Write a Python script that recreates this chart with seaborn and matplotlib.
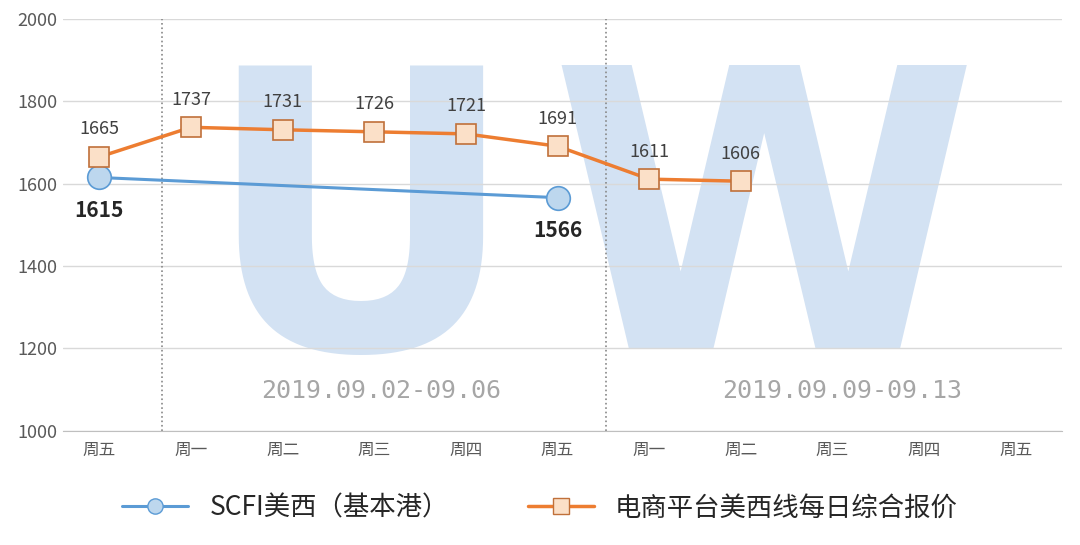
import matplotlib.pyplot as plt
import seaborn as sns
import pandas as pd
from matplotlib.lines import Line2D

days = ["周五", "周一", "周二", "周三", "周四", "周五",
        "周一", "周二", "周三", "周四", "周五"]
ecom_idx = [0, 1, 2, 3, 4, 5, 6, 7]
ecom_vals = [1665, 1737, 1731, 1726, 1721, 1691, 1611, 1606]
scfi_idx = [0, 5]
scfi_vals = [1615, 1566]
weeks = ["2019.09.02-09.06", "2019.09.09-09.13"]

sns.set_style("white")
plt.rcParams['font.family'] = ['Noto Sans CJK SC', 'DejaVu Sans']

fig = plt.figure(figsize=(10.8, 5.45), dpi=100)
ax = fig.add_axes([0.058, 0.21, 0.925, 0.755])

# watermark
wm = dict(fontsize=280, color="#d3e2f3", ha="center", va="center",
          fontweight="bold", family=["Liberation Sans Narrow", "DejaVu Sans"], zorder=0)
ax.text(2.85, 1460, "U", **wm)
ax.text(7.25, 1460, "W", **wm)

for y in range(1000, 2001, 200):
    ax.axhline(y, color="#d9d9d9", lw=1, zorder=1)
ax.axvline(0.68, color="#888888", ls=":", lw=1.2, zorder=1)
ax.axvline(5.53, color="#888888", ls=":", lw=1.2, zorder=1)

df_e = pd.DataFrame({"x": ecom_idx, "y": ecom_vals})
df_s = pd.DataFrame({"x": scfi_idx, "y": scfi_vals})
sns.lineplot(data=df_s, x="x", y="y", ax=ax, color="#5b9bd5", lw=2.2,
             marker="o", markersize=17, markerfacecolor="#bdd7ee",
             markeredgecolor="#5b9bd5", markeredgewidth=1.2, zorder=3)
sns.lineplot(data=df_e, x="x", y="y", ax=ax, color="#ed7d31", lw=2.5,
             marker="s", markersize=15, markerfacecolor="#fbe0c8",
             markeredgecolor="#c0703a", markeredgewidth=1.2, zorder=4)

for x, y in zip(ecom_idx, ecom_vals):
    ax.text(x, y + 45, str(y), ha="center", va="bottom", fontsize=13, color="#404040")
for x, y in zip(scfi_idx, scfi_vals):
    ax.text(x, y - 55, str(y), ha="center", va="top", fontsize=15,
            fontweight="bold", color="#262626")

dfont = dict(ha="center", va="center", fontsize=18, color="#a6a6a6",
             family=["DejaVu Sans Mono"], fontweight="light")
ax.text(3.08, 1095, weeks[0], **dfont)
ax.text(8.1, 1095, weeks[1], **dfont)

ax.set_xlim(-0.4, 10.5)
ax.set_ylim(1000, 2000)
ax.set_xticks(range(len(days)))
ax.set_xticklabels(days, fontsize=12, color="#595959")
ax.set_yticks(range(1000, 2001, 200))
ax.tick_params(axis="y", labelsize=13, colors="#595959", length=0)
ax.tick_params(axis="x", length=5, color="#bfbfbf")
ax.set_xlabel("")
ax.set_ylabel("")
for s in ["top", "right", "left"]:
    ax.spines[s].set_visible(False)
ax.spines["bottom"].set_color("#bfbfbf")

handles = [
    Line2D([], [], color="#5b9bd5", lw=2.2, marker="o", markersize=11,
           markerfacecolor="#bdd7ee", markeredgecolor="#5b9bd5"),
    Line2D([], [], color="#ed7d31", lw=2.5, marker="s", markersize=11,
           markerfacecolor="#fbe0c8", markeredgecolor="#c0703a"),
]
fig.legend(handles, ["SCFI美西（基本港）", "电商平台美西线每日综合报价"],
           loc="lower center", bbox_to_anchor=(0.5, 0.0), ncol=2, frameon=False,
           fontsize=19, handlelength=2.5, columnspacing=3)

fig.savefig("out.png", dpi=100)
